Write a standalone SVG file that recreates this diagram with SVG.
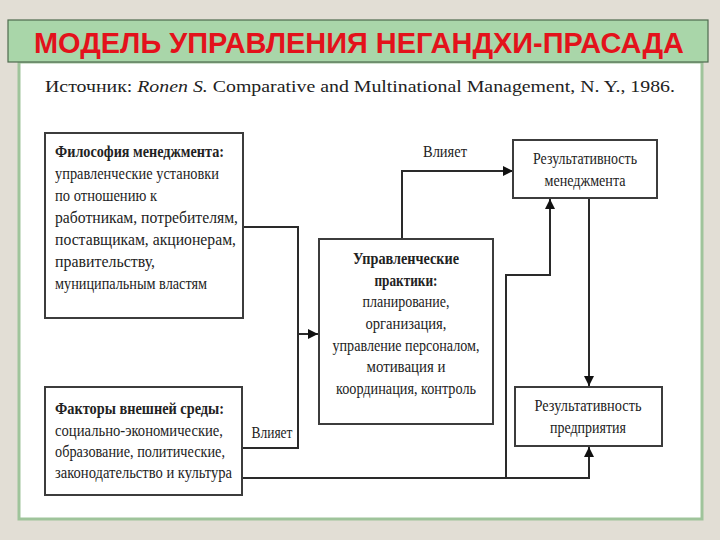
<svg xmlns="http://www.w3.org/2000/svg" width="720" height="540" viewBox="0 0 720 540">
<style>
.box{fill:#fff;stroke:#3c3c3c;stroke-width:2}
.t{font-family:"Liberation Serif","Times New Roman",serif;font-size:17.5px;fill:#222}
.b{font-weight:bold}
.c{text-anchor:middle}
.ln{fill:none;stroke:#2a2a2a;stroke-width:2}
</style>
<defs>
<marker id="ah" viewBox="0 0 10 10" refX="10" refY="5" markerWidth="5" markerHeight="5" orient="auto" markerUnits="strokeWidth">
<path d="M0,0 L10,5 L0,10 z" fill="#111"/>
</marker>
</defs>
<rect x="0" y="0" width="720" height="540" fill="#e2ded5"/>
<rect x="19" y="62" width="683" height="457" fill="#fff" stroke="#9fc49b" stroke-width="3"/>
<rect x="8" y="20" width="700" height="42" fill="#a9d6a9" stroke="#4f6a4f" stroke-width="1.2"/>
<text x="359" y="53" text-anchor="middle" font-family="'Liberation Sans',Arial,sans-serif" font-weight="bold" font-size="29" fill="#e3121b" textLength="650" lengthAdjust="spacingAndGlyphs">МОДЕЛЬ УПРАВЛЕНИЯ НЕГАНДХИ-ПРАСАДА</text>
<text x="45" y="92" class="t" font-size="24" textLength="630" lengthAdjust="spacingAndGlyphs">Источник: <tspan font-style="italic">Ronen S.</tspan> Comparative and Multinational Management, N. Y., 1986.</text>

<g id="connectors">
<polyline class="ln" points="243,227 298,227 298,448 243,448"/>
<line class="ln" x1="298" y1="334" x2="318" y2="334" marker-end="url(#ah)"/>
<polyline class="ln" points="402,239 402,171 513,171" marker-end="url(#ah)"/>
<polyline class="ln" points="243,478 589,478 589,447" marker-end="url(#ah)"/>
<polyline class="ln" points="506,478 506,275 550,275 550,199" marker-end="url(#ah)"/>
<line class="ln" x1="589" y1="198" x2="589" y2="386" marker-end="url(#ah)"/>
<text x="445" y="157" class="t c" textLength="44" lengthAdjust="spacingAndGlyphs">Влияет</text>
<text x="272" y="438" class="t c" textLength="41" lengthAdjust="spacingAndGlyphs">Влияет</text>
</g>

<g id="philosophy">
<rect class="box" x="45" y="133" width="198" height="185"/>
<text class="t b" x="55" y="157" textLength="169" lengthAdjust="spacingAndGlyphs">Философия менеджмента:</text>
<text class="t" x="55" y="179" textLength="164" lengthAdjust="spacingAndGlyphs">управленческие установки</text>
<text class="t" x="55" y="201" textLength="102" lengthAdjust="spacingAndGlyphs">по отношению к</text>
<text class="t" x="55" y="223" textLength="183" lengthAdjust="spacingAndGlyphs">работникам, потребителям,</text>
<text class="t" x="55" y="245" textLength="181" lengthAdjust="spacingAndGlyphs">поставщикам, акционерам,</text>
<text class="t" x="55" y="267" textLength="100" lengthAdjust="spacingAndGlyphs">правительству,</text>
<text class="t" x="55" y="289" textLength="152" lengthAdjust="spacingAndGlyphs">муниципальным властям</text>
</g>

<g id="practices">
<rect class="box" x="319" y="239" width="174" height="185"/>
<text class="t b c" x="406" y="264" textLength="106" lengthAdjust="spacingAndGlyphs">Управленческие</text>
<text class="t b c" x="406" y="286" textLength="63" lengthAdjust="spacingAndGlyphs">практики:</text>
<text class="t c" x="406" y="307" textLength="87" lengthAdjust="spacingAndGlyphs">планирование,</text>
<text class="t c" x="406" y="329" textLength="81" lengthAdjust="spacingAndGlyphs">организация,</text>
<text class="t c" x="406" y="351" textLength="147" lengthAdjust="spacingAndGlyphs">управление персоналом,</text>
<text class="t c" x="406" y="372" textLength="79" lengthAdjust="spacingAndGlyphs">мотивация и</text>
<text class="t c" x="406" y="394" textLength="140" lengthAdjust="spacingAndGlyphs">координация, контроль</text>
</g>

<g id="mgmt-result">
<rect class="box" x="513" y="140" width="144" height="58"/>
<text class="t c" x="585" y="164" textLength="104" lengthAdjust="spacingAndGlyphs">Результативность</text>
<text class="t c" x="585" y="186" textLength="81" lengthAdjust="spacingAndGlyphs">менеджмента</text>
</g>

<g id="environment">
<rect class="box" x="45" y="387" width="197" height="108"/>
<text class="t b" x="55" y="414" textLength="169" lengthAdjust="spacingAndGlyphs">Факторы внешней среды:</text>
<text class="t" x="55" y="436" textLength="168" lengthAdjust="spacingAndGlyphs">социально-экономические,</text>
<text class="t" x="55" y="457" textLength="170" lengthAdjust="spacingAndGlyphs">образование, политические,</text>
<text class="t" x="55" y="478" textLength="177" lengthAdjust="spacingAndGlyphs">законодательство и культура</text>
</g>

<g id="enterprise-result">
<rect class="box" x="515" y="387" width="147" height="59"/>
<text class="t c" x="588" y="411" textLength="107" lengthAdjust="spacingAndGlyphs">Результативность</text>
<text class="t c" x="588" y="433" textLength="76" lengthAdjust="spacingAndGlyphs">предприятия</text>
</g>
</svg>
